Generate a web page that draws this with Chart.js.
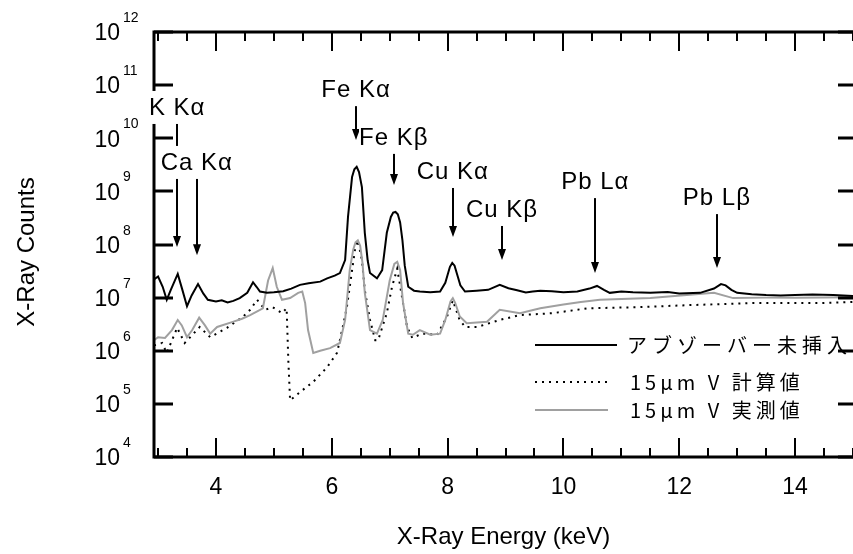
<!DOCTYPE html>
<html><head><meta charset="utf-8">
<script src="https://cdn.jsdelivr.net/npm/chart.js@4/dist/chart.umd.min.js"></script>
<style>html,body{margin:0;padding:0;background:#fff}canvas{display:block}</style>
</head><body>
<canvas id="c" width="853" height="554"></canvas>
<script>
// ---- data (keV, counts) ----
const energyNoAbs = [2.93,3.0,3.08,3.15,3.22,3.34,3.42,3.50,3.58,3.69,3.78,3.86,4.0,4.1,4.2,4.3,4.41,4.54,4.64,4.70,4.76,4.88,5.0,5.16,5.3,5.45,5.6,5.8,5.92,6.05,6.14,6.23,6.28,6.35,6.39,6.43,6.47,6.52,6.57,6.62,6.66,6.78,6.87,6.95,7.02,7.06,7.10,7.14,7.18,7.22,7.26,7.32,7.42,7.52,7.7,7.87,7.96,8.04,8.08,8.12,8.17,8.22,8.30,8.5,8.7,8.9,9.05,9.2,9.35,9.47,9.6,9.8,10.0,10.24,10.45,10.58,10.7,10.8,11.0,11.2,11.5,11.8,12.0,12.36,12.6,12.72,12.8,12.9,13.0,13.25,13.5,13.75,14.0,14.3,14.66,15.0];
const countsNoAbs = [2.2e7,2.5e7,1.6e7,9.1e6,1.4e7,2.8e7,1.4e7,6.9e6,1.1e7,1.8e7,1.2e7,9.1e6,8.5e6,8.9e6,8.1e6,8.7e6,9.8e6,1.23e7,1.95e7,1.6e7,1.3e7,1.23e7,1.26e7,1.32e7,1.48e7,1.74e7,1.86e7,2.0e7,2.3e7,2.6e7,2.9e7,5.1e7,3.3e8,1.86e9,2.6e9,2.9e9,2.3e9,1.2e9,1.66e8,5.0e7,2.9e7,2.3e7,3.3e7,1.66e8,3.3e8,4.0e8,4.1e8,3.7e8,2.6e8,1.2e8,4.0e7,1.6e7,1.35e7,1.3e7,1.26e7,1.3e7,1.9e7,3.8e7,4.5e7,4.0e7,2.6e7,1.7e7,1.3e7,1.35e7,1.4e7,1.74e7,1.5e7,1.38e7,1.25e7,1.3e7,1.35e7,1.32e7,1.26e7,1.3e7,1.48e7,1.66e7,1.4e7,1.23e7,1.3e7,1.26e7,1.23e7,1.27e7,1.2e7,1.23e7,1.48e7,1.8e7,1.7e7,1.4e7,1.23e7,1.16e7,1.12e7,1.1e7,1.12e7,1.15e7,1.12e7,1.07e7];

const energyCalc = [2.93,3.07,3.15,3.33,3.46,3.72,3.90,4.19,4.47,4.59,4.71,4.85,4.98,5.14,5.22,5.25,5.28,5.45,5.68,5.92,6.09,6.19,6.26,6.31,6.40,6.45,6.52,6.57,6.66,6.75,6.80,6.95,7.04,7.13,7.23,7.30,7.39,7.56,7.82,7.99,8.09,8.2,8.30,8.51,8.9,9.25,9.82,10.41,11.27,12.13,13.27,14.43,15.0];
const countsCalc = [1.26e6,1.4e6,9.1e5,2.7e6,1.4e6,2.8e6,1.8e6,2.7e6,4.4e6,5.9e6,9.1e6,5.9e6,6.6e6,5.1e6,6.3e6,6.3e5,1.17e5,1.66e5,2.6e5,4.9e5,9.1e5,2.8e6,6.6e6,1.6e7,7.9e7,1.2e8,5.1e7,1.38e7,3.8e6,1.58e6,1.58e6,5.1e6,1.6e7,3.5e7,7.9e6,2.8e6,1.74e6,2.1e6,2.0e6,4.4e6,8.9e6,4.0e6,2.8e6,2.8e6,3.8e6,4.7e6,5.1e6,6.3e6,6.6e6,7.2e6,7.9e6,7.9e6,8.3e6];

const energyMeas = [2.93,3.0,3.12,3.24,3.34,3.41,3.50,3.59,3.71,3.81,3.90,4.02,4.29,4.45,4.59,4.81,4.90,4.98,5.05,5.14,5.28,5.42,5.49,5.54,5.59,5.68,5.80,5.97,6.14,6.23,6.31,6.37,6.41,6.45,6.49,6.53,6.57,6.66,6.78,6.88,7.0,7.08,7.13,7.18,7.23,7.32,7.40,7.52,7.70,7.87,7.96,8.05,8.09,8.13,8.21,8.33,8.68,8.90,9.25,9.6,10.0,10.3,10.63,11.5,12.13,12.6,12.93,13.5,14.0,15.0];
const countsMeas = [1.58e6,1.8e6,1.74e6,2.45e6,3.8e6,3.0e6,1.8e6,2.45e6,4.2e6,3.0e6,2.1e6,2.8e6,3.5e6,4.0e6,4.7e6,6.3e6,2.1e7,3.6e7,1.6e7,9.1e6,9.8e6,1.23e7,1.3e7,7.9e6,2.45e6,9.1e5,1.0e6,1.12e6,1.4e6,3.8e6,3.3e7,8.0e7,1.1e8,1.2e8,9.5e7,4.5e7,1.23e7,2.45e6,2.1e6,3.8e6,2.1e7,4.3e7,4.7e7,3.3e7,8.0e6,2.1e6,2.0e6,2.45e6,2.0e6,2.1e6,3.8e6,8.5e6,9.8e6,8.0e6,4.4e6,3.3e6,3.5e6,5.9e6,5.1e6,6.3e6,7.4e6,8.3e6,9.1e6,9.8e6,1.12e7,1.23e7,9.8e6,1.0e7,1.0e7,1.02e7];

const seriesLabels = ['アブゾーバー未挿入', '15μm V 計算値', '15μm V 実測値'];

// peak annotations: label, energy (keV), arrow tail and tip (counts)
const peakLabels   = ['K Kα','Ca Kα','Fe Kα','Fe Kβ','Cu Kα','Cu Kβ','Pb Lα','Pb Lβ'];
const peakEnergies = [3.33, 3.67, 6.42, 7.07, 8.09, 8.94, 10.55, 12.65];
const arrowTail    = [1.94e10, 1.79e9, 4.2e10, 5.3e9, 1.21e9, 2.33e8, 7.8e8, 3.9e8];
const arrowTip     = [9.0e7, 6.3e7, 9.3e9, 1.32e9, 1.38e8, 5.1e7, 2.9e7, 3.6e7];

// axes
const xMajorTicks = [4, 6, 8, 10, 12, 14];
const xTickLabels = ['4', '6', '8', '10', '12', '14'];
const yExponents  = [4, 5, 6, 7, 8, 9, 10, 11, 12];
const xTitle = 'X-Ray Energy (keV)';
const yTitle = 'X-Ray Counts';

const toXY = (xs, ys) => xs.map((v, i) => ({x: v, y: ys[i]}));

const LATIN = '"Liberation Sans", Arial, sans-serif';
const CJK = '"Noto Sans CJK JP", sans-serif';

const decor = {
  id: 'decor',
  afterDatasetsDraw(chart) {
    const {ctx, chartArea: a, scales: {x, y}} = chart;
    ctx.save();
    ctx.strokeStyle = '#000';
    ctx.fillStyle = '#000';
    // frame
    ctx.lineWidth = 3;
    ctx.beginPath();
    ctx.moveTo(a.left, a.top); ctx.lineTo(a.right, a.top);
    ctx.moveTo(a.left, a.top - 1.5); ctx.lineTo(a.left, a.bottom + 1.5);
    ctx.moveTo(a.left, a.bottom); ctx.lineTo(a.right, a.bottom);
    ctx.stroke();
    // x ticks (inward, top and bottom)
    ctx.lineWidth = 2;
    ctx.beginPath();
    for (let v = 3; v <= x.max + 1e-6; v += 0.5) {
      const px = Math.round(x.getPixelForValue(v));
      const len = xMajorTicks.includes(v) ? 19 : 9;
      ctx.moveTo(px, a.bottom); ctx.lineTo(px, a.bottom - len);
      ctx.moveTo(px, a.top); ctx.lineTo(px, a.top + len);
    }
    ctx.stroke();
    // y ticks
    ctx.lineWidth = 3;
    ctx.beginPath();
    yExponents.forEach(e => {
      const py = Math.round(y.getPixelForValue(Math.pow(10, e)));
      ctx.moveTo(a.left, py); ctx.lineTo(a.left + 19, py);
      ctx.moveTo(a.right, py); ctx.lineTo(a.right - 15, py);
    });
    ctx.stroke();
    // x tick labels
    ctx.font = '23px ' + LATIN;
    ctx.textAlign = 'center';
    ctx.textBaseline = 'middle';
    xMajorTicks.forEach((v, i) => {
      ctx.fillText(xTickLabels[i], x.getPixelForValue(v), a.bottom + 31);
    });
    // y tick labels: 10^e
    yExponents.forEach(e => {
      const py = y.getPixelForValue(Math.pow(10, e));
      ctx.font = '23px ' + LATIN;
      ctx.textAlign = 'right';
      ctx.textBaseline = 'middle';
      ctx.fillText('10', a.left - 34, py + 2);
      ctx.font = '14px ' + LATIN;
      ctx.textAlign = 'left';
      ctx.textBaseline = 'alphabetic';
      ctx.fillText(String(e), a.left - 31, py - 10);
    });
    // axis titles
    ctx.font = '24px ' + LATIN;
    ctx.textAlign = 'center';
    ctx.textBaseline = 'middle';
    ctx.fillText(xTitle, (a.left + a.right) / 2, 537);
    ctx.save();
    ctx.translate(27, 252);
    ctx.rotate(-Math.PI / 2);
    ctx.fillText(yTitle, 0, 0);
    ctx.restore();
    // arrows
    ctx.lineWidth = 2;
    peakEnergies.forEach((en, i) => {
      const px = Math.round(x.getPixelForValue(en));
      const y0 = y.getPixelForValue(arrowTail[i]);
      const y1 = y.getPixelForValue(arrowTip[i]);
      ctx.beginPath();
      ctx.moveTo(px, y0); ctx.lineTo(px, y1 - 8);
      ctx.stroke();
      ctx.beginPath();
      ctx.moveTo(px - 4, y1 - 11); ctx.lineTo(px + 4, y1 - 11); ctx.lineTo(px, y1);
      ctx.closePath(); ctx.fill();
    });
    // labels with white backgrounds
    ctx.font = '24px ' + LATIN;
    if ('letterSpacing' in ctx) ctx.letterSpacing = '1px';
    ctx.textAlign = 'center';
    ctx.textBaseline = 'middle';
    peakLabels.forEach((t, i) => {
      const px = x.getPixelForValue(peakEnergies[i]);
      const y0 = y.getPixelForValue(arrowTail[i]);
      const cy = y0 - 15;
      const w = ctx.measureText(t).width;
      ctx.fillStyle = '#fff';
      ctx.fillRect(px - w / 2, cy - 17, w, 33);
      ctx.fillStyle = '#000';
      ctx.fillText(t, px, cy);
    });
    if ('letterSpacing' in ctx) ctx.letterSpacing = '0px';
    // legend
    const rows = [345, 382, 410];
    const ends = [617, 608, 608];
    const textX = [627, 630, 630];
    const spacing = ['5px', '4px', '4px'];
    ctx.textAlign = 'left';
    ctx.textBaseline = 'middle';
    chart.data.datasets.forEach((ds, i) => {
      ctx.save();
      ctx.strokeStyle = ds.borderColor;
      ctx.lineWidth = ds.borderWidth;
      ctx.setLineDash(ds.borderDash || []);
      ctx.beginPath();
      ctx.moveTo(535, rows[i]); ctx.lineTo(ends[i], rows[i]);
      ctx.stroke();
      ctx.restore();
      ctx.font = '20px ' + CJK;
      if ('letterSpacing' in ctx) ctx.letterSpacing = spacing[i];
      ctx.fillStyle = '#000';
      ctx.fillText(ds.label, textX[i], rows[i]);
      if ('letterSpacing' in ctx) ctx.letterSpacing = '0px';
    });
    ctx.restore();
  }
};

new Chart(document.getElementById('c'), {
  type: 'line',
  data: {
    datasets: [
      {label: seriesLabels[0], data: toXY(energyNoAbs, countsNoAbs), borderColor: '#000', borderWidth: 2, pointRadius: 0, tension: 0, order: 1},
      {label: seriesLabels[1], data: toXY(energyCalc, countsCalc), borderColor: '#000', borderWidth: 2, borderDash: [2, 5], pointRadius: 0, tension: 0, order: 3},
      {label: seriesLabels[2], data: toXY(energyMeas, countsMeas), borderColor: '#a0a0a0', borderWidth: 2, pointRadius: 0, tension: 0, order: 2}
    ]
  },
  options: {
    responsive: false,
    animation: false,
    devicePixelRatio: 1,
    layout: {padding: {left: 154, top: 32, right: 0, bottom: 97}},
    plugins: {legend: {display: false}, tooltip: {enabled: false}},
    scales: {
      x: {type: 'linear', min: 2.93, max: 15.0, display: false},
      y: {type: 'logarithmic', min: 1e4, max: 1e12, display: false}
    }
  },
  plugins: [decor]
});
</script>
</body></html>
